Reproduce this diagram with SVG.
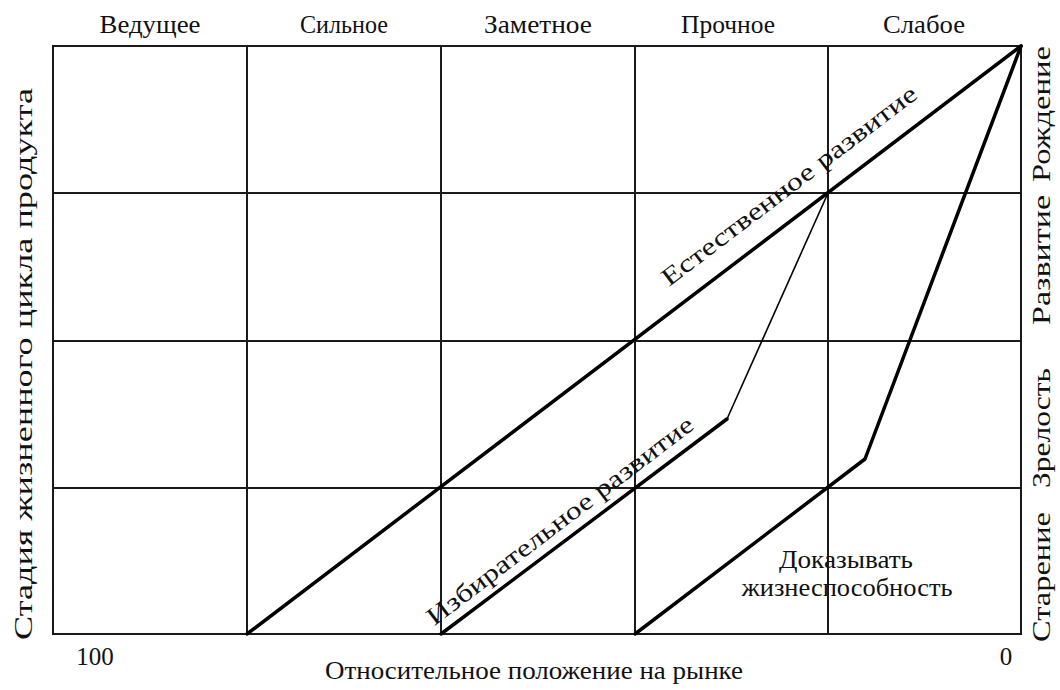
<svg xmlns="http://www.w3.org/2000/svg" width="1060" height="690" viewBox="0 0 1060 690">
<style>
text{font-family:"Liberation Serif","Times New Roman",serif;font-size:25px;fill:#111;}
.grid{stroke:#1a1a1a;stroke-width:2;fill:none;}
.thick{stroke:#000;stroke-width:3.5;fill:none;stroke-linejoin:round;stroke-linecap:round;}
.thin{stroke:#000;stroke-width:1.6;fill:none;}
.m{text-anchor:middle;}
</style>
<rect width="1060" height="690" fill="#fff"/>
<g id="grid">
<rect class="grid" x="53" y="46" width="968" height="588"/>
<path class="grid" d="M247,46V634M441,46V634M635,46V634M828,46V634M53,193H1021M53,341H1021M53,488H1021"/>
</g>
<g id="top-labels">
<text class="m" x="150" y="33" textLength="101" lengthAdjust="spacingAndGlyphs">Ведущее</text>
<text class="m" x="344" y="33" textLength="88" lengthAdjust="spacingAndGlyphs">Сильное</text>
<text class="m" x="538" y="33" textLength="108" lengthAdjust="spacingAndGlyphs">Заметное</text>
<text class="m" x="728" y="33" textLength="94" lengthAdjust="spacingAndGlyphs">Прочное</text>
<text class="m" x="924" y="33" textLength="82" lengthAdjust="spacingAndGlyphs">Слабое</text>
</g>
<g id="axis-labels">
<text class="m" x="95" y="665">100</text>
<text class="m" x="1006" y="665">0</text>
<text class="m" x="534" y="679" textLength="418" lengthAdjust="spacingAndGlyphs">Относительное положение на рынке</text>
<text class="m" transform="translate(32,364) rotate(-90)" textLength="552" lengthAdjust="spacingAndGlyphs">Стадия жизненного цикла продукта</text>
</g>
<g id="stage-labels">
<text class="m" transform="translate(1050,577) rotate(-90)" textLength="130" lengthAdjust="spacingAndGlyphs">Старение</text>
<text class="m" transform="translate(1050,428) rotate(-90)" textLength="120" lengthAdjust="spacingAndGlyphs">Зрелость</text>
<text class="m" transform="translate(1050,260) rotate(-90)" textLength="130" lengthAdjust="spacingAndGlyphs">Развитие</text>
<text class="m" transform="translate(1050,114) rotate(-90)" textLength="136" lengthAdjust="spacingAndGlyphs">Рождение</text>
</g>
<g id="connectors">
<path id="natural" class="thick" d="M247,634L1021,46"/>
<path id="selective" class="thick" d="M441,634L727,419"/>
<path id="selective-thin" class="thin" d="M727,419L828,193"/>
<path id="prove" class="thick" d="M635,634L865,459L1021,46"/>
</g>
<g id="line-labels">
<text class="m" transform="translate(794,192) rotate(-37.2)" textLength="314" lengthAdjust="spacingAndGlyphs">Естественное развитие</text>
<text class="m" transform="translate(565,527) rotate(-37.2)" textLength="328" lengthAdjust="spacingAndGlyphs">Избирательное развитие</text>
<text class="m" x="846" y="568" textLength="134" lengthAdjust="spacingAndGlyphs">Доказывать</text>
<text class="m" x="847" y="596" textLength="211" lengthAdjust="spacingAndGlyphs">жизнеспособность</text>
</g>
</svg>
